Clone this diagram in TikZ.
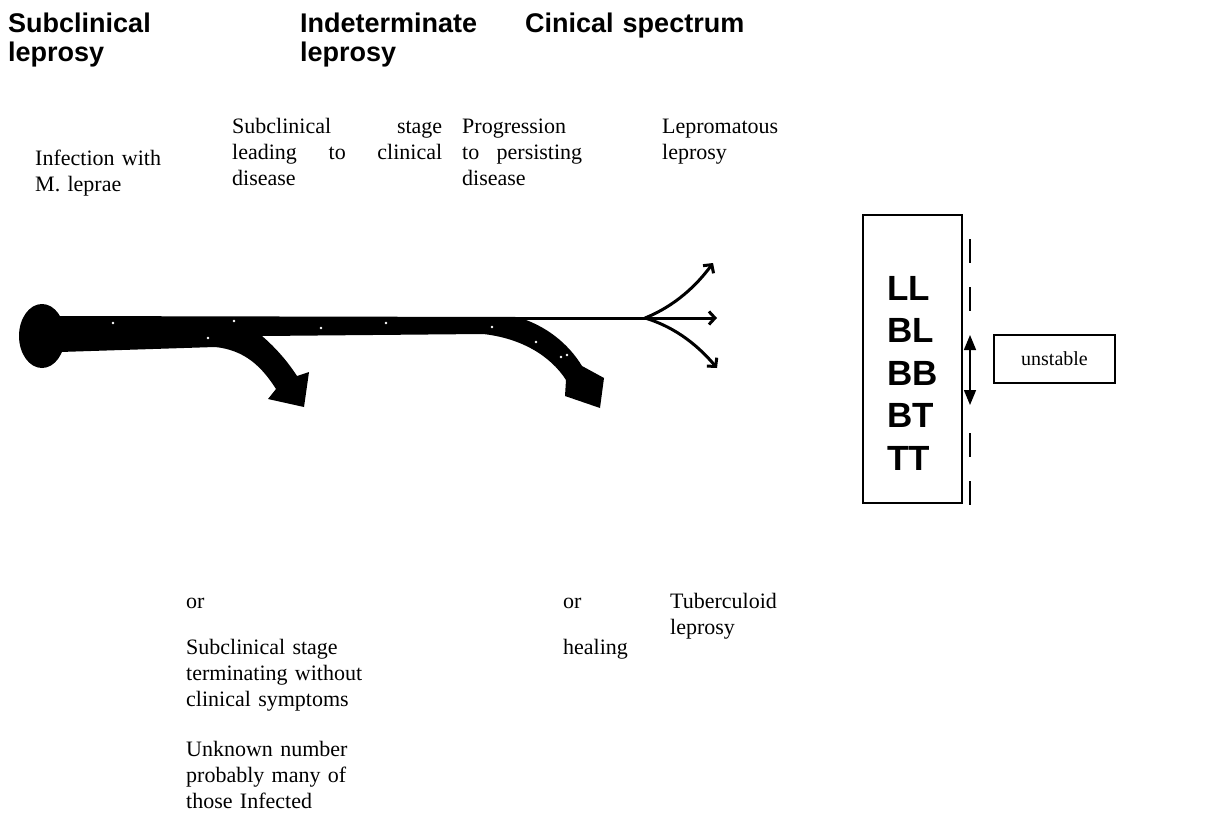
\documentclass[tikz,border=0pt]{standalone}
\usepackage{fontspec}
\setmainfont{Liberation Serif}
\newfontfamily\headsans{Liberation Sans}
\usetikzlibrary{arrows.meta}
\hyphenpenalty=10000

\begin{document}
\begin{tikzpicture}[x=1pt,y=-1pt,>=Stealth,
    heading/.style={anchor=base west,inner sep=0pt,text width=300pt,align=left,
      font=\headsans\bfseries\fontsize{27}{29}\selectfont},
    stagetext/.style={anchor=base west,inner sep=0pt,text width=250pt,align=left,
      font=\fontsize{22}{26}\selectfont},
    justblock/.style={stagetext,text width=#1,align=justify}]
    \useasboundingbox (0,0) rectangle (1206,824);

    % Headings
    \node[heading] (hsub) at (8,33) {Subclinical\\leprosy};
    \node[heading] (hind) at (300,33) {Indeterminate\\leprosy};
    \node[heading] (hclin) at (525,33) {Cinical spectrum};

    % Upper stage texts
    \node[stagetext] (infect) at (35,165) {Infection with\\M. leprae};
    \node[justblock=210pt] (lead) at (232,133) {Subclinical stage\linebreak leading to clinical\linebreak disease};
    \node[justblock=120pt] (progr) at (462,133) {Progression to persisting disease};
    \node[stagetext] (lepro) at (662,133) {Lepromatous\\leprosy};

    % Thick band with two bent arrows
    \fill (42,336) ellipse [x radius=23pt, y radius=32pt];
    \fill (45,316) -- (517,317)
      .. controls (545,325) and (568,343) .. (582,366)
      -- (604,378) -- (600,408) -- (565,396) -- (566,380)
      .. controls (550,355) and (520,338) .. (483,334)
      -- (262,336)
      .. controls (276,348) and (288,362) .. (297,376)
      -- (309,372) -- (304,407) -- (268,399) -- (276,389)
      .. controls (262,367) and (245,350) .. (215,347)
      -- (60,352) -- cycle;
    % specks
    \foreach \p in {(113,323),(234,321),(208,338),(321,328),(386,323),(492,327),(536,342),(561,357),(567,355)}
      \fill[white] \p circle (1.3pt);

    % Thin line and fork
    \coordinate (tip) at (517,318);
    \coordinate (fork) at (645,318);
    \coordinate (upend) at (713,263);
    \coordinate (midend) at (717,318);
    \coordinate (lowend) at (717,368);
    \draw[line width=3pt,-{Straight Barb[length=6pt,width=13pt]}] (tip) -- (midend);
    \draw[line width=3pt,-{Straight Barb[length=6pt,width=13pt]}] (fork) .. controls (675,306) and (697,285) .. (upend);
    \draw[line width=3pt,-{Straight Barb[length=6pt,width=13pt]}] (fork) .. controls (678,328) and (700,348) .. (lowend);

    % Spectrum box
    \node[draw,line width=1.5pt,minimum width=99pt,minimum height=288pt] (forms) at (912.5,359) {};
    \node[inner sep=0pt,align=left,font=\headsans\bfseries\fontsize{35}{42.5}\selectfont]
      (formlist) at (912.5,373) {LL\\BL\\BB\\BT\\TT};
    \draw[line width=1.5pt,dash pattern=on 24pt off 24pt] (970,239) -- (970,313);
    \draw[line width=1.5pt,dash pattern=on 24pt off 24pt] (970,433) -- (970,505);
    \coordinate (utop) at (970,335);
    \coordinate (ubot) at (970,405);
    \draw[line width=1.5pt,{Triangle[length=15pt,width=12pt]}-{Triangle[length=15pt,width=12pt]}] (utop) -- (ubot);
    \node[draw,line width=1.5pt,minimum width=121pt,minimum height=48pt,
      font=\fontsize{20}{22}\selectfont] (unst) at (1054.5,359) {unstable};

    % Lower texts
    \node[stagetext] (or1) at (186,608) {or};
    \node[stagetext] (or2) at (563,608) {or};
    \node[stagetext] (tuber) at (670,608) {Tuberculoid\\leprosy};
    \node[stagetext] (term) at (186,654) {Subclinical stage\\terminating without\\clinical symptoms};
    \node[stagetext] (heal) at (563,654) {healing};
    \node[stagetext] (unkn) at (186,756) {Unknown number\\probably many of\\those Infected};
\end{tikzpicture}
\end{document}
